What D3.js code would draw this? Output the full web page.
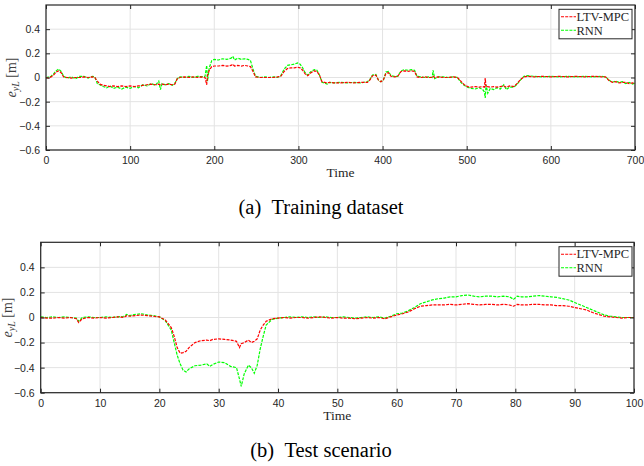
<!DOCTYPE html>
<html>
<head>
<meta charset="utf-8">
<script src="https://cdn.jsdelivr.net/npm/d3@7"></script>
<style>
body { margin:0; background:#fff; }
svg { display:block; }
.tick text { font-family:"Liberation Sans", Arial, sans-serif; font-size:10.5px; fill:#262626; }
</style>
</head>
<body>
<div id="chart"></div>
<script>
// training dataset, time / LTV-MPC / RNN
var trainTime = [0,3,6,9,12,15,18,21,25,30,
35,40,45,50,55,58,61,64,68,72,
76,80,85,90,95,100,105,110,115,120,
125,130,134,136,138,142,146,150,153,156,
159,165,170,175,180,185,189,191,192,194,
197,200,205,210,215,220,222,224,228,232,
236,240,243,246,249,255,260,265,270,275,
279,283,287,291,295,299,302,305,308,311,
315,319,322,325,328,331,334,337,342,350,
358,366,374,382,385,388,392,395,398,401,
404,407,410,414,418,422,426,430,434,438,
441,445,450,455,459,460,462,466,472,478,
484,489,493,497,501,505,510,515,519,521,
522,523,525,528,532,536,540,544,547,551,
556,560,564,568,572,580,590,600,610,620,
630,640,650,660,665,669,673,677,681,685,
689,693,697,700];
var trainMpc = [0,-0.005,0.005,0.02,0.045,0.055,0.04,0.005,0,-0.005,
0,0,0.005,0,0.005,0,-0.03,-0.055,-0.065,-0.07,
-0.075,-0.07,-0.075,-0.07,-0.075,-0.07,-0.075,-0.07,-0.065,-0.06,
-0.055,-0.06,-0.055,-0.06,-0.055,-0.06,-0.055,-0.06,-0.055,-0.01,
0,0.005,0,0.005,0,0.005,0,-0.06,0.02,0.06,
0.09,0.095,0.095,0.1,0.095,0.1,0.11,0.095,0.1,0.095,
0.1,0.095,0.09,0.05,0.005,0,0,0,0,0.005,
0.01,0.05,0.075,0.08,0.08,0.085,0.08,0.06,0.03,0.015,
0.04,0.055,0.05,0.02,-0.035,-0.04,-0.045,-0.04,-0.045,-0.045,
-0.04,-0.045,-0.04,-0.04,-0.02,0.015,0.02,-0.02,-0.035,-0.02,
0.035,0.04,0.01,0.005,0.01,0.05,0.055,0.05,0.055,0.05,
0.005,0,0.005,0,0,0.01,0,0.005,0,0,
0.005,0,-0.03,-0.06,-0.075,-0.08,-0.075,-0.08,-0.075,-0.08,
-0.005,-0.08,-0.075,-0.08,-0.075,-0.08,-0.075,-0.07,-0.08,-0.07,
-0.075,-0.05,-0.015,0.005,0.01,0.005,0.01,0.005,0.01,0.005,
0.01,0.005,0.01,0.005,0.005,-0.025,-0.04,-0.035,-0.045,-0.04,
-0.04,-0.05,-0.045,-0.05];
var trainRnn = [-0.005,0.005,0.01,0.03,0.055,0.07,0.05,0.01,-0.005,0.005,
-0.01,0.01,0.01,-0.005,0.01,0.005,-0.05,-0.06,-0.075,-0.085,
-0.07,-0.09,-0.08,-0.095,-0.08,-0.09,-0.075,-0.085,-0.06,-0.07,
-0.05,-0.065,-0.03,-0.1,-0.05,-0.06,-0.05,-0.065,-0.05,-0.01,
0.005,0,0.01,0,0.01,0.005,0.01,0.1,-0.03,0.08,
0.14,0.15,0.145,0.155,0.15,0.16,0.175,0.145,0.16,0.15,
0.155,0.15,0.14,0.07,0.01,0,0.005,0,0.005,0,
0.015,0.07,0.1,0.105,0.11,0.12,0.11,0.08,0.04,0.02,
0.05,0.065,0.06,0.02,-0.04,-0.045,-0.055,-0.04,-0.045,-0.04,
-0.045,-0.04,-0.045,-0.035,-0.015,0.02,0.025,-0.02,-0.035,-0.02,
0.045,0.05,0.015,0.01,0.01,0.055,0.065,0.06,0.065,0.06,
0.01,0.005,0,0.005,0,0.06,-0.01,0.005,0.005,0,
0.005,0,-0.04,-0.065,-0.08,-0.09,-0.095,-0.085,-0.1,-0.12,
-0.17,-0.06,-0.13,-0.09,-0.1,-0.085,-0.095,-0.06,-0.1,-0.08,
-0.08,-0.055,-0.02,0.01,0.015,0.01,0.005,0.01,0.005,0.01,
0.005,0.01,0.005,0.01,0.005,-0.02,-0.04,-0.03,-0.04,-0.035,
-0.05,-0.04,-0.055,-0.045];

// test scenario
var testTime = [0,1,2,3,4,5,6,6.4,7,8,
9,10,11,12,13,14,14.5,15,16,17,
18,19,20,21,22,22.5,23,23.5,24,24.5,
25,26,27,28,28.5,29,30,31,32,33,
33.5,33.8,34.3,35,35.5,36,36.5,37,37.5,38,
39,40,41,42,43,44,45,46,47,48,
49,50,51,52,53,54,55,56,57,58,
59,60,61,62,63,64,65,66,67,68,
69,70,71,72,73,74,75,76,77,78,
79,79.7,80.3,81,82,83,84,85,86,87,
88,89,90,91,92,93,94,95,96,97,
98,99,100];
var testMpc = [0,-0.005,-0.005,0,-0.005,0,-0.01,-0.04,-0.01,0,
-0.005,0,-0.005,0,0.005,0,0.015,0.01,0.015,0.02,
0.015,0.01,0.005,-0.02,-0.08,-0.15,-0.24,-0.285,-0.28,-0.27,
-0.24,-0.2,-0.185,-0.18,-0.185,-0.175,-0.17,-0.175,-0.18,-0.19,
-0.24,-0.21,-0.2,-0.18,-0.2,-0.19,-0.17,-0.1,-0.06,-0.03,
-0.01,-0.005,0,-0.005,0,0,-0.005,0,0.005,0,
-0.005,0,-0.005,-0.005,-0.01,-0.005,0,-0.005,0,-0.01,
0.005,0.02,0.03,0.045,0.07,0.09,0.095,0.1,0.1,0.1,
0.105,0.1,0.105,0.11,0.105,0.1,0.105,0.105,0.1,0.105,
0.1,0.09,0.105,0.1,0.1,0.105,0.105,0.1,0.1,0.095,
0.095,0.09,0.08,0.07,0.06,0.04,0.025,0.01,0.005,0,
-0.005,0,0];
var testRnn = [0.005,0,0.005,0,0.005,0,-0.005,-0.03,0,0.005,
0,0,0.005,0,0.005,0.01,0.025,0.015,0.025,0.03,
0.02,0.015,0.005,-0.025,-0.1,-0.2,-0.3,-0.37,-0.42,-0.435,
-0.41,-0.385,-0.38,-0.37,-0.39,-0.375,-0.355,-0.36,-0.39,-0.4,
-0.49,-0.55,-0.45,-0.38,-0.4,-0.445,-0.38,-0.25,-0.15,-0.06,
-0.015,-0.005,0,0.005,0,0.005,0,0.005,0,0.005,
0,0,0.005,0,-0.005,0,0.005,0,0.005,-0.005,
0.01,0.03,0.035,0.055,0.08,0.11,0.125,0.14,0.15,0.155,
0.165,0.165,0.175,0.18,0.17,0.165,0.17,0.17,0.165,0.17,
0.165,0.145,0.17,0.165,0.165,0.17,0.175,0.17,0.165,0.16,
0.15,0.14,0.12,0.1,0.08,0.06,0.04,0.02,0.01,0.005,
0,0,0];

var seriesNames = ["LTV-MPC", "RNN"];
var seriesColors = ["#ff0000", "#00ff00"];
var yTicks = [-0.6, -0.4, -0.2, 0, 0.2, 0.4];
var trainXTicks = [0,100,200,300,400,500,600,700];
var testXTicks = [0,10,20,30,40,50,60,70,80,90,100];
var captions = ["(a)\u2002Training dataset", "(b)\u2002Test scenario"];

var svg = d3.select("#chart").append("svg")
  .attr("width", 644)
  .attr("height", 466);

function drawPanel(opt){
  var x = d3.scaleLinear().domain(opt.xdom).range([opt.left, opt.right]);
  var y = d3.scaleLinear().domain([-0.6, 0.6]).range([opt.bottom, opt.top]);
  var g = svg.append("g");

  // grid
  g.selectAll(".gx").data(opt.xticks).enter().append("line")
    .attr("x1", function(d){ return x(d); }).attr("x2", function(d){ return x(d); })
    .attr("y1", opt.top).attr("y2", opt.bottom)
    .attr("stroke", "#e3e3e3").attr("stroke-width", 1);
  g.selectAll(".gy").data(yTicks).enter().append("line")
    .attr("y1", function(d){ return y(d); }).attr("y2", function(d){ return y(d); })
    .attr("x1", opt.left).attr("x2", opt.right)
    .attr("stroke", "#e3e3e3").attr("stroke-width", 1);

  // series
  var line = d3.line()
    .x(function(d){ return x(d[0]); })
    .y(function(d){ return y(d[1]); });
  [opt.rnn, opt.mpc].forEach(function(vals, k){
    var idx = k == 0 ? 1 : 0;
    g.append("path")
      .datum(d3.zip(opt.time, vals))
      .attr("d", line)
      .attr("fill", "none")
      .attr("stroke", seriesColors[idx])
      .attr("stroke-width", 1.2)
      .attr("stroke-dasharray", "3,1.2");
  });

  // axes (ticks inside, all four sides)
  g.append("g").attr("transform", "translate(0," + opt.bottom + ")")
    .call(d3.axisBottom(x).tickValues(opt.xticks).tickSize(-4).tickPadding(7).tickFormat(d3.format("d")))
    .call(function(a){ a.select(".domain").remove(); a.selectAll("line").attr("stroke", "#262626"); });
  g.append("g").attr("transform", "translate(0," + opt.top + ")")
    .call(d3.axisTop(x).tickValues(opt.xticks).tickSize(-4).tickFormat(""))
    .call(function(a){ a.select(".domain").remove(); a.selectAll("line").attr("stroke", "#262626"); });
  g.append("g").attr("transform", "translate(" + opt.left + ",0)")
    .call(d3.axisLeft(y).tickValues(yTicks).tickSize(-4).tickPadding(opt.ypad).tickFormat(function(d){ return d == 0 ? "0" : d3.format(".1f")(d); }))
    .call(function(a){ a.select(".domain").remove(); a.selectAll("line").attr("stroke", "#262626"); });
  g.append("g").attr("transform", "translate(" + opt.right + ",0)")
    .call(d3.axisRight(y).tickValues(yTicks).tickSize(-4).tickFormat(""))
    .call(function(a){ a.select(".domain").remove(); a.selectAll("line").attr("stroke", "#262626"); });

  g.append("rect")
    .attr("x", opt.left).attr("y", opt.top)
    .attr("width", opt.right - opt.left).attr("height", opt.bottom - opt.top)
    .attr("fill", "none").attr("stroke", "#262626").attr("stroke-width", 1.2);

  // labels
  g.append("text")
    .attr("x", (opt.left + opt.right) / 2).attr("y", opt.bottom + 27)
    .attr("text-anchor", "middle")
    .style("font-family", "'Liberation Serif', 'DejaVu Serif', serif")
    .style("font-size", "13.5px").attr("fill", "#262626")
    .text("Time");

  var yl = g.append("text")
    .attr("transform", "translate(" + opt.ylx + "," + y(0) + ") rotate(-90)")
    .attr("text-anchor", "middle")
    .style("font-family", "'Liberation Serif', 'DejaVu Serif', serif")
    .style("font-size", "14px").attr("fill", "#404040");
  yl.append("tspan").style("font-style", "italic").text("e");
  yl.append("tspan").style("font-style", "italic").style("font-size", "10px").attr("dy", 3).text("yL");
  yl.append("tspan").attr("dy", -3).text(" [m]");

  // legend
  var lg = g.append("g").attr("transform", "translate(" + opt.lgx + "," + opt.lgy + ")");
  lg.append("rect").attr("width", 73).attr("height", 29.5)
    .attr("fill", "#fff").attr("stroke", "#262626").attr("stroke-width", 1);
  seriesNames.forEach(function(n, i){
    lg.append("line")
      .attr("x1", 2).attr("x2", 17)
      .attr("y1", 7.5 + i * 13.5).attr("y2", 7.5 + i * 13.5)
      .attr("stroke", seriesColors[i]).attr("stroke-width", 1.1)
      .attr("stroke-dasharray", "3,1.2");
    lg.append("text")
      .attr("x", 17.5).attr("y", 11.8 + i * 13.5)
      .style("font-family", "'Liberation Serif', 'DejaVu Serif', serif")
      .style("font-size", "12.5px").attr("fill", "#262626")
      .text(n);
  });

  svg.append("text")
    .attr("x", 321).attr("y", opt.capy)
    .attr("text-anchor", "middle")
    .style("font-family", "'Liberation Serif', 'Times New Roman', serif")
    .style("font-size", "20.5px").attr("fill", "#000")
    .text(opt.caption);
}

drawPanel({
  time: trainTime, mpc: trainMpc, rnn: trainRnn,
  xdom: [0, 700], xticks: trainXTicks,
  left: 46, right: 635, top: 5, bottom: 150,
  ypad: 6, ylx: 16, lgx: 559, lgy: 9.3, capy: 213.5,
  caption: captions[0]
});

drawPanel({
  time: testTime, mpc: testMpc, rnn: testRnn,
  xdom: [0, 100], xticks: testXTicks,
  left: 40.7, right: 634, top: 242.3, bottom: 392.7,
  ypad: 6, ylx: 12, lgx: 559, lgy: 246.7, capy: 456.5,
  caption: captions[1]
});
</script>
</body>
</html>
